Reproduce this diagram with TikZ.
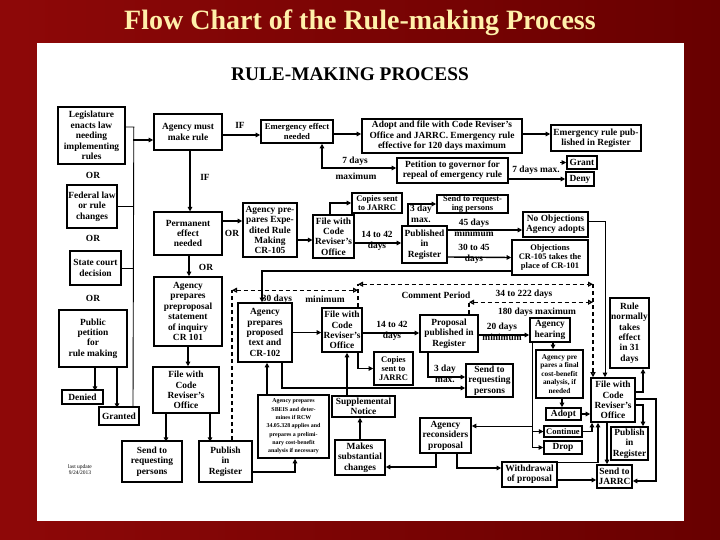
\documentclass[tikz,border=0pt]{standalone}
\usepackage{fontspec}
\setmainfont{Liberation Serif}
\usetikzlibrary{arrows.meta}
\definecolor{bgL}{RGB}{142,8,8}
\definecolor{bgR}{RGB}{104,0,0}
\definecolor{ttl}{RGB}{255,240,170}
\tikzset{
  bx/.style={draw, line width=1.6pt, inner sep=0pt, align=center, font=\fontsize{9.4}{10.4}\selectfont\bfseries},
  tb/.style={line width=1.1pt},
  sm/.style={font=\fontsize{8.5}{9}\selectfont\bfseries},
  sev/.style={font=\fontsize{7.3}{8.6}\selectfont\bfseries},
  six/.style={font=\fontsize{5.9}{8.3}\selectfont\bfseries},
  lab/.style={inner sep=0pt, align=center, font=\fontsize{9.4}{10.8}\selectfont\bfseries},
  cn/.style={line width=1.4pt, -{Triangle[length=4.5pt,width=4.5pt]}},
  cnt/.style={line width=1pt, -{Triangle[length=4.5pt,width=4.5pt]}},
  cnb/.style={line width=1.4pt, {Triangle[length=4.5pt,width=4.5pt]}-{Triangle[length=4.5pt,width=4.5pt]}},
  thn/.style={line width=0.9pt},
  dsh/.style={line width=1.2pt, dash pattern=on 4pt off 3pt},
  dim/.style={dsh, {Triangle[open,length=5pt,width=5pt]}-{Triangle[open,length=5pt,width=5pt]}},
  dar/.style={dsh, -{Triangle[open,length=5pt,width=5pt]}},
}
\newcommand\bx[7][]{\node[bx,#1,minimum width={(#4)-(#2)},minimum height={(#5)-(#3)}] (#6) at ({((#2)+(#4))/2},{((#3)+(#5))/2}) {#7};}
\begin{document}
\begin{tikzpicture}[x=1pt,y=-1pt]
\useasboundingbox (0,0) rectangle (720,540);
\shade[left color=bgL, right color=bgR] (0,0) rectangle (720,540);
\fill[white] (37,43) rectangle (684,521);
\node[text=ttl, font=\fontsize{28}{30}\selectfont\bfseries] (title) at (360,23) {Flow Chart of the Rule-making Process};
\node[font=\fontsize{19.3}{21}\selectfont\bfseries] (sub) at (350,74) {RULE-MAKING PROCESS};

% left column
\bx{58}{107}{125}{164}{L1}{Legislature\\enacts law\\needing\\implementing\\rules}
\bx{67}{185}{117}{228}{L2}{Federal law\\or rule\\changes}
\bx[tb]{70}{251}{121}{285}{L3}{State court\\decision}
\bx{59}{310}{127}{367}{L4}{Public\\petition\\for\\rule making}
\bx{62}{390}{103}{404}{Dn}{Denied}
\bx{99}{407}{139}{425}{Gr}{Granted}
\node[lab] (or1) at (93,175) {OR};
\node[lab] (or2) at (93,238) {OR};
\node[lab] (or3) at (93,298) {OR};
\node[font=\fontsize{5.5}{6}\selectfont, align=center] (upd) at (80,470) {last update\\9/24/2013};

% second column
\bx{154}{114}{222}{150}{A1}{Agency must\\make rule}
\bx[tb]{154}{212}{222}{255}{P1}{Permanent\\effect\\needed}
\bx{154}{277}{222}{346}{PP}{Agency\\prepares\\preproposal\\statement\\of inquiry\\CR 101}
\bx{153}{367}{219}{413}{F1}{File with\\Code\\Reviser's\\Office}
\bx{122}{441}{182}{482}{S1}{Send to\\requesting\\persons}
\bx{199}{441}{252}{482}{R1}{Publish\\in\\Register}
\node[lab] (if1) at (240,125) {IF};
\node[lab] (if2) at (205,177) {IF};
\node[lab] (or4) at (232,233) {OR};
\node[lab] (or5) at (206,267) {OR};

% emergency row
\bx[font=\fontsize{8.7}{10}\selectfont\bfseries]{261}{120}{333}{143}{E1}{Emergency effect\\needed}
\bx{362}{119}{522}{153}{E2}{Adopt and file with Code Reviser's\\Office and JARRC. Emergency rule\\effective for 120 days maximum}
\bx{551}{125}{641}{151}{E3}{Emergency rule pub-\\lished in Register}
\bx{397}{158}{508}{183}{PG}{Petition to governor for\\repeal of emergency rule}
\bx{567}{156}{597}{169}{G}{Grant}
\bx{566}{172}{594}{186}{D}{Deny}
\node[lab] (l7a) at (355,161) {7 days};
\node[lab] (l7b) at (356,176) {maximum};
\node[lab] (l7) at (536,170) {7 days max.};

% expedited row
\bx{243}{203}{297}{257}{X1}{Agency pre-\\pares Expe-\\dited Rule\\Making\\CR-105}
\bx[tb]{313}{215}{354}{258}{XF}{File with\\Code\\Reviser's\\Office}
\bx[sm]{352}{193}{402}{213}{XC}{Copies sent\\to JARRC}
\bx{402}{226}{447}{263}{XP}{Published\\in\\Register}
\bx[sm]{437}{195}{508}{213}{XS}{Send to request-\\ing persons}
\bx{523}{212}{588}{237}{NO}{No Objections\\Agency adopts}
\bx[sm]{512}{240}{588}{275}{OB}{Objections\\CR-105 takes the\\place of CR-101}
\node[lab] (lx1) at (377,241) {14 to 42\\days};
\node[lab] (lx2) at (421,214) {3 day\\max.};
\node[lab] (lx3) at (474,228) {45 days\\minimum};
\node[lab] (lx4) at (474,254) {30 to 45\\days};

% regular row
\bx{238}{303}{292}{362}{AP}{Agency\\prepares\\proposed\\text and\\CR-102}
\bx{322}{308}{362}{352}{PF}{File with\\Code\\Reviser's\\Office}
\bx{420}{315}{478}{352}{P2}{Proposal\\published in\\Register}
\bx[sm]{374}{352}{413}{385}{PC}{Copies\\sent to\\JARRC}
\bx{466}{364}{513}{397}{PS}{Send to\\requesting\\persons}
\bx{530}{318}{570}{342}{AH}{Agency\\hearing}
\bx[sev]{536}{350}{583}{398}{CB}{Agency pre\\pares a final\\cost-benefit\\analysis, if\\needed}
\bx{546}{408}{581}{420}{AD}{Adopt}
\bx[sm,tb]{544}{426}{582}{437}{CO}{Continue}
\bx{544}{441}{582}{454}{DR}{Drop}
\bx{591}{378}{635}{422}{FF}{File with\\Code\\Reviser's\\Office}
\bx{610}{298}{649}{368}{RN}{Rule\\normally\\takes\\effect\\in 31\\days}
\bx{611}{427}{648}{460}{FP}{Publish\\in\\Register}
\bx{597}{465}{632}{488}{FJ}{Send to\\JARRC}
\bx{502}{462}{557}{487}{WD}{Withdrawal\\of proposal}
\bx{420}{418}{471}{453}{AR}{Agency\\reconsiders\\proposal}
\bx[six]{258}{395}{329}{458}{SB}{Agency prepares\\SBEIS and deter-\\mines if RCW\\34.05.328 applies and\\prepares a prelimi-\\nary cost-benefit\\analysis if necessary}
\bx{332}{396}{395}{417}{SN}{Supplemental\\Notice}
\bx{335}{440}{385}{475}{MS}{Makes\\substantial\\changes}
\node[lab] (lr1) at (392,331) {14 to 42\\days};
\node[lab] (lr2) at (445,374) {3 day\\max.};
\node[lab] (lr3) at (502,332) {20 days\\minimum};
\node[lab] (ld1) at (277,299) {30 days};
\node[lab] (ld2) at (325,299) {minimum};
\node[lab] (ld3) at (436,295) {Comment Period};
\node[lab] (ld4) at (524,294) {34 to 222 days};
\node[lab] (ld5) at (537,312) {180 days maximum};

% left connectors
\coordinate (vm) at (133,140);
\draw[thn] ([yshift=8.5pt]L1.east) -- ++(8,0) -- (vm |- Gr.north);
\draw[thn] (L2.east) -- (L2.east -| vm);
\draw[thn] (L3.east) -- (L3.east -| vm);
\draw[cn, line width=2.2pt] (vm) -- (vm -| A1.west);
\draw[cn] ([xshift=2pt]L4.south) -- ++(0,23);
\draw[cn] ([xshift=24pt]L4.south) -- ++(0,40);

% column 2
\draw[cn] ([yshift=-3pt]A1.east) -- ([yshift=-3.5pt]E1.west);
\draw[cn, line width=2.2pt] ([xshift=2pt]A1.south) -- ([xshift=2pt]P1.north);
\draw[cn] ([yshift=12.5pt]P1.east) -- ([yshift=9pt]X1.west);
\draw[cn] ([xshift=1pt]P1.south) -- ([xshift=1pt]PP.north);
\draw[cn] (PP.south) -- (PP.south |- F1.north);
\draw[cn] ([xshift=-20pt]F1.south) -- ++(0,28);
\draw[cn] ([xshift=24pt]F1.south) -- ++(0,28);

% emergency
\draw[cn] ([yshift=-2.5pt]E1.east) -- ([yshift=2pt]E2.west);
\draw[cn] ([yshift=2pt]E2.east) -- ([yshift=4pt]E3.west);
\draw[cnb] ([xshift=25pt]E1.south) |- ([yshift=2.5pt]PG.west);
\draw[cnt] (l7.north east |- G.west) -- (G.west);
\draw[cn] ([yshift=-8.5pt]PG.east) -- (D.west);

% expedited
\draw[cn] ([yshift=-10pt]X1.east) -- ([yshift=-3.5pt]XF.west);
\draw[cn] ([xshift=-3.5pt]XF.north) |- (XC.west);
\draw[cn] ([yshift=-6.5pt]XF.east) -- ([yshift=1.5pt]XP.west);
\draw[cn] ([xshift=-16.5pt]XP.north) |- (XS.west);
\draw[cn] ([yshift=14.5pt]XP.east) -- ([yshift=-5.5pt]NO.west);
\draw[cn] ([yshift=-12.5pt]XP.east) -- (OB.west);
\draw[cnt] ([yshift=2.5pt]NO.east) -| ([xshift=-8pt]FF.north);
\draw[cn, line width=1.9pt] ([yshift=-13.5pt]OB.west) -| ([xshift=-3pt]AP.north);

% regular
\draw[cn] (AP.east) -- ([yshift=-2.5pt]PF.west);
\draw[cn] ([yshift=-3pt]PF.east) -- ([yshift=0.5pt]P2.west);
\draw[cn] ([xshift=16pt]PF.south) |- (PC.west);
\draw[cn] ([xshift=-21pt]P2.south) |- ([yshift=3.5pt]PS.west);
\draw[cn] ([xshift=17pt]AP.south) |- ([yshift=-7.5pt]PS.west);
\draw[cn] ([yshift=-1.5pt]P2.east) -- ([yshift=-5pt]AH.west);
\draw[cn] ([xshift=3pt]AH.south) -- ([xshift=-6.5pt]CB.north);
\draw[cn] ([xshift=2.5pt]CB.south) -- ([xshift=-1.5pt]AD.north);
\draw[cn] (AD.east) -- ([yshift=-14pt]FF.west);
\draw[cnt] ([xshift=-18pt]AH.south) |- (DR.west);
\draw[cnt] ([xshift=-18pt]AH.south) |- (CO.west);
\draw[cnt] ([xshift=-18pt]AH.south) |- ([yshift=9.5pt]AR.east);
\draw[cn] (CO.east) -| ([xshift=-21pt]FF.south);
\draw[cn] ([yshift=-1.5pt]WD.north east) -| ([xshift=-15pt]FF.south);
\draw[cn] ([yshift=-5.5pt]WD.east) -- ([yshift=-3.5pt]FJ.west);
\draw[cn] ([xshift=-9.5pt]AR.south) |- ([yshift=-9.5pt]MS.east);
\draw[cn] ([xshift=11.5pt]AR.south) |- ([yshift=6.5pt]WD.west);
\draw[cn] (MS.north) -- (MS.north |- SN.south);
\draw[cn] ([xshift=-16.5pt]SN.north) -- ([xshift=5pt]PF.south);
\draw[cn] ([xshift=-26.5pt]SB.north) -- ([xshift=2pt]AP.south);
\draw[cn] ([yshift=-10.5pt]R1.east) -| ([xshift=1.5pt]SB.south);
\draw[cn] ([yshift=8pt]FF.east) -| ([xshift=13.5pt]RN.south);
\draw[cn] ([yshift=-5pt]FF.east) -| ([xshift=13.5pt]FP.north);
\draw[cn] ([yshift=1pt]FF.east) -- ++(20,0) |- ([yshift=-4.5pt]FJ.east);
\draw[cn] ([xshift=-6pt]FF.south) -- ([xshift=-7.5pt]FJ.north);

% dashed dimension lines
\draw[dsh] ([xshift=6.5pt]R1.north) -- ++(0,-150) coordinate (d30);
\draw[dsh] ([xshift=16pt]PF.north) -- ++(0,-23) coordinate (dcp);
\path ([xshift=-20pt]FF.north) ++(0,-93) coordinate (dfr);
\draw[dar] (dfr) -- ([xshift=-20pt]FF.north);
\draw[dim] (d30) -- (d30 -| dcp);
\draw[dim] (dcp) -- (dfr);
\draw[dsh] ([xshift=20pt]P2.north) -- ++(0,-12) coordinate (d180);
\draw[dim] (d180) -- (d180 -| dfr);
\end{tikzpicture}
\end{document}
